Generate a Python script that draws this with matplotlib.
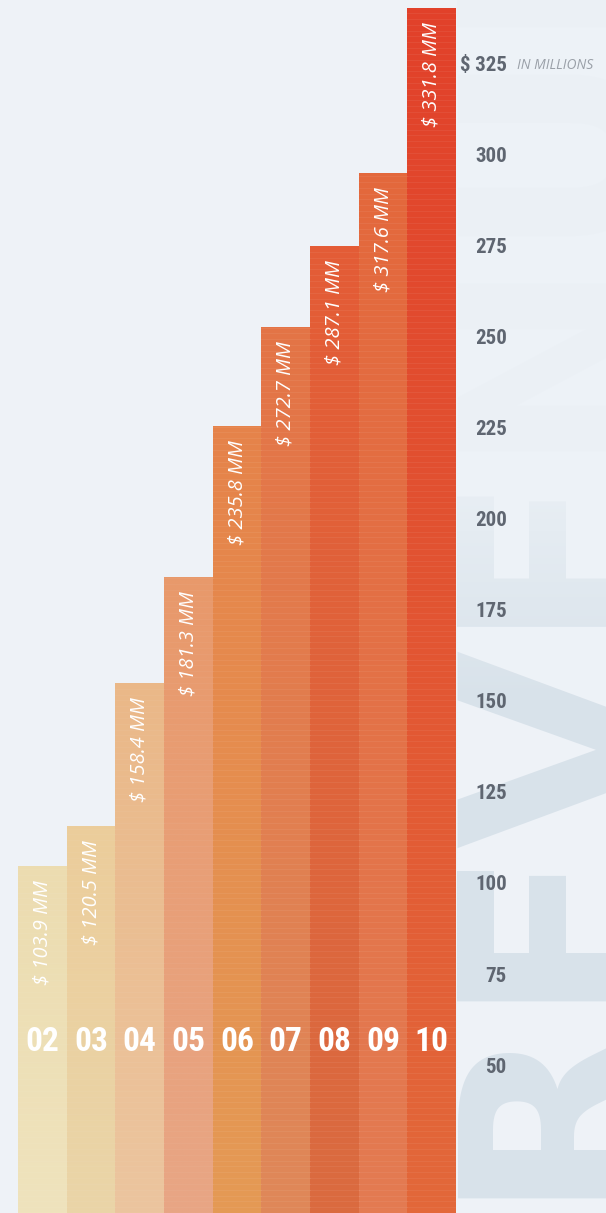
import matplotlib
matplotlib.use("Agg")
import matplotlib.pyplot as plt
import numpy as np
from matplotlib import font_manager as fm
from matplotlib.colors import LinearSegmentedColormap

# data
years = ["02", "03", "04", "05", "06", "07", "08", "09", "10"]
revenue_mm = [103.9, 120.5, 158.4, 181.3, 235.8, 272.7, 287.1, 317.6, 331.8]
# bar heights as drawn on the right-hand scale
bar_heights = [105.2, 116.2, 155.5, 184.6, 226.1, 253.3, 275.5, 295.6, 340.9]
y_ticks = [50, 75, 100, 125, 150, 175, 200, 225, 250, 275, 300, 325]

top_colors = ["#ecdcb0", "#eccd9b", "#eab888", "#e8996b", "#e6834a",
              "#e47446", "#e45c36", "#e3683c", "#e1412a"]
bottom_colors = ["#efe3bd", "#ead5a8", "#ecc59f", "#e8a685", "#e49a55",
                 "#df8859", "#da6b40", "#e47b52", "#e3683a"]

BG = "#eef2f7"
ITALIC = ["Open Sans", "DejaVu Sans"]


def pick_condensed():
    narrow = ("condensed", "semi-condensed", "extra-condensed",
              "ultra-condensed")
    fonts = fm.fontManager.ttflist
    for want in ["Roboto Condensed", "Open Sans Condensed", "DejaVu Sans",
                 "Liberation Sans Narrow", "Noto Sans"]:
        for f in fonts:
            if f.name == want and (f.stretch in narrow
                                   or "Narrow" in f.name
                                   or "Condensed" in f.name):
                return want, f.stretch
    for f in fonts:
        if f.stretch in narrow or "Narrow" in f.name or "Condensed" in f.name:
            return f.name, f.stretch
    return None, None


cond_name, cond_stretch = pick_condensed()
if cond_name:
    NARROW = dict(family=[cond_name, "DejaVu Sans"], fontstretch=cond_stretch)
    num_size, year_size = 15, 24
else:
    NARROW = dict(family=["Roboto", "DejaVu Sans"])
    num_size, year_size = 13, 21

fig = plt.figure(figsize=(6.06, 12.13), dpi=100)
fig.patch.set_facecolor(BG)
ax = fig.add_axes([0, 0, 1, 1])
ax.set_facecolor(BG)
x0, x1 = -0.87, 11.58
y0, y1 = 9.9, 343.1

# faint background lettering on the right
ax.text(13.0, 14, "REVENUE", rotation=90, fontsize=185, fontweight="bold",
        color="#c6d5e0", alpha=0.55, ha="right", va="bottom",
        family=["DejaVu Sans"], zorder=0)
vals = np.linspace(y0, y1, 400)
fade = np.clip((vals - 150) / 70, 0, 1).reshape(-1, 1)
fade_cmap = LinearSegmentedColormap.from_list(
    "fade", [(0.93, 0.95, 0.97, 0.0), (0.93, 0.95, 0.97, 0.92)])
ax.imshow(fade, extent=[8.5, x1, y0, y1], origin="lower",
          cmap=fade_cmap, aspect="auto", zorder=0.5, vmin=0, vmax=1)

xs = np.arange(len(years))
bars = ax.bar(xs, bar_heights, width=1.0, bottom=0, color="none",
              linewidth=0, zorder=2)
for i, b in enumerate(bars):
    cmap = LinearSegmentedColormap.from_list(
        f"bar{i}", [bottom_colors[i], top_colors[i]])
    grad = np.linspace(0, 1, 256).reshape(-1, 1)
    im = ax.imshow(grad, extent=[xs[i] - 0.5, xs[i] + 0.5, y0, bar_heights[i]],
                   origin="lower", cmap=cmap, aspect="auto", zorder=2)
    im.set_clip_path(b)
    # subtle woven texture
    for yy in np.arange(y0, bar_heights[i], 1.6):
        ax.plot([xs[i] - 0.5, xs[i] + 0.5], [yy, yy], color="#ffffff",
                alpha=0.04 if i < 4 else 0.06, linewidth=0.8, zorder=2.5)

    ax.annotate(f"$ {revenue_mm[i]:.1f} MM", xy=(xs[i], bar_heights[i]),
                xytext=(0, -10), textcoords="offset points", rotation=90,
                ha="center", va="top", color="white", fontsize=14.5,
                fontstyle="italic", family=ITALIC, zorder=4)
    ax.text(xs[i], 56.9, years[i], ha="center", va="center", color="white",
            fontsize=year_size, fontweight="bold", zorder=4, **NARROW)

# right-hand scale
label_x = 9.54
for t in y_ticks:
    lab = f"$ {t}" if t == y_ticks[-1] else str(t)
    ax.text(label_x, t, lab, ha="right", va="center", color="#5f6671",
            fontsize=num_size, fontweight="bold", zorder=4, **NARROW)
ax.text(9.75, y_ticks[-1], "IN MILLIONS", ha="left", va="center",
        color="#9aa0a8", fontsize=10, fontstyle="italic", family=ITALIC,
        zorder=4)

ax.set_xlim(x0, x1)
ax.set_ylim(y0, y1)
ax.axis("off")

fig.savefig("out.png", dpi=100, facecolor=BG)
